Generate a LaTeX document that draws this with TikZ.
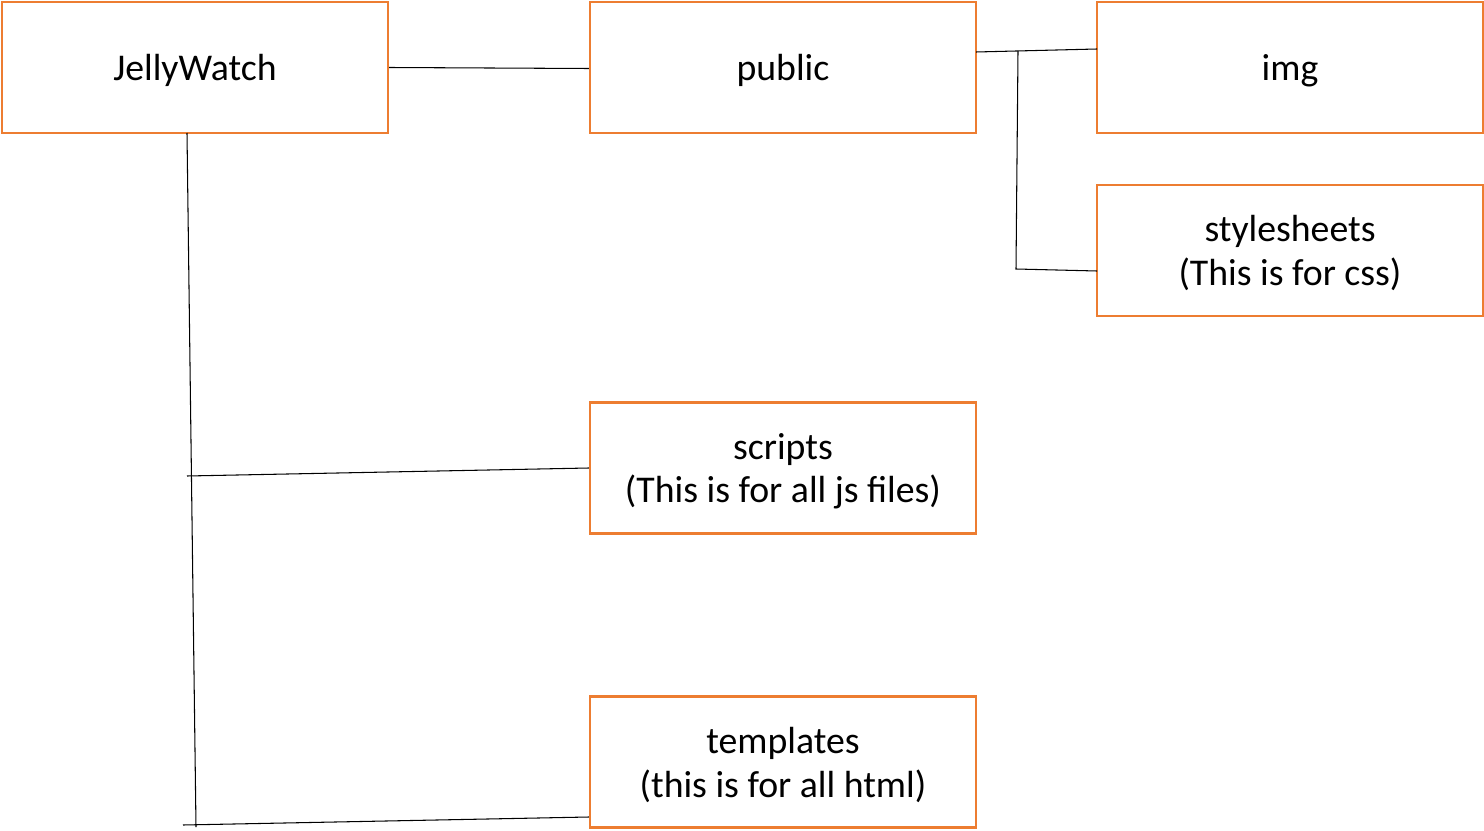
\documentclass[tikz,border=0pt]{standalone}
\usepackage{fontspec}
\setmainfont{Carlito}
\usepackage{xcolor}
\usepackage{tikz}
\usetikzlibrary{calc}
\definecolor{boxorange}{HTML}{ED7D31}

\begin{document}
\begin{tikzpicture}[x=0.02cm,y=-0.02cm,
  folder/.style={draw=boxorange,line width=1.4pt,minimum width=7.72cm,minimum height=2.62cm,
    align=center,text depth=0pt,font=\fontsize{21.5}{25}\selectfont},
  link/.style={black,line width=0.6pt}]
\useasboundingbox (0,0) rectangle (1484,831);

\node[folder] (jelly) at (195,67.5) {JellyWatch};
\node[folder] (public) at (783,67.5) {public};
\node[folder] (img) at (1290,67.5) {img};
\node[folder] (styles) at (1290,250.5) {stylesheets\\(This is for css)};
\node[folder] (scripts) at (783,468) {scripts\\(This is for all js files)};
\node[folder] (templates) at (783,762) {templates\\(this is for all html)};

\coordinate (trunktop) at (187,133);
\coordinate (trunkbot) at (196,827);
\coordinate (scrbranch) at (187,476);
\coordinate (tplbranch) at (183,825);
\coordinate (pubout) at (976,52);
\coordinate (imgin) at (1097,49);
\coordinate (forktop) at (1018,51);
\coordinate (forkbot) at (1016,269);
\coordinate (stylin) at (1097,271);

   \draw[link] (jelly.east) -- ($(public.west)+(0,1)$);
   \draw[link] (trunktop) -- (trunkbot);
   \draw[link] (scrbranch) -- ($(scripts.west)+(0,0)$);
   \draw[link] (tplbranch) -- ($(templates.west)+(0,55)$);
   \draw[link] (pubout) -- (imgin);
   \draw[link] (forktop) -- (forkbot) -- (stylin);
\end{tikzpicture}
\end{document}
